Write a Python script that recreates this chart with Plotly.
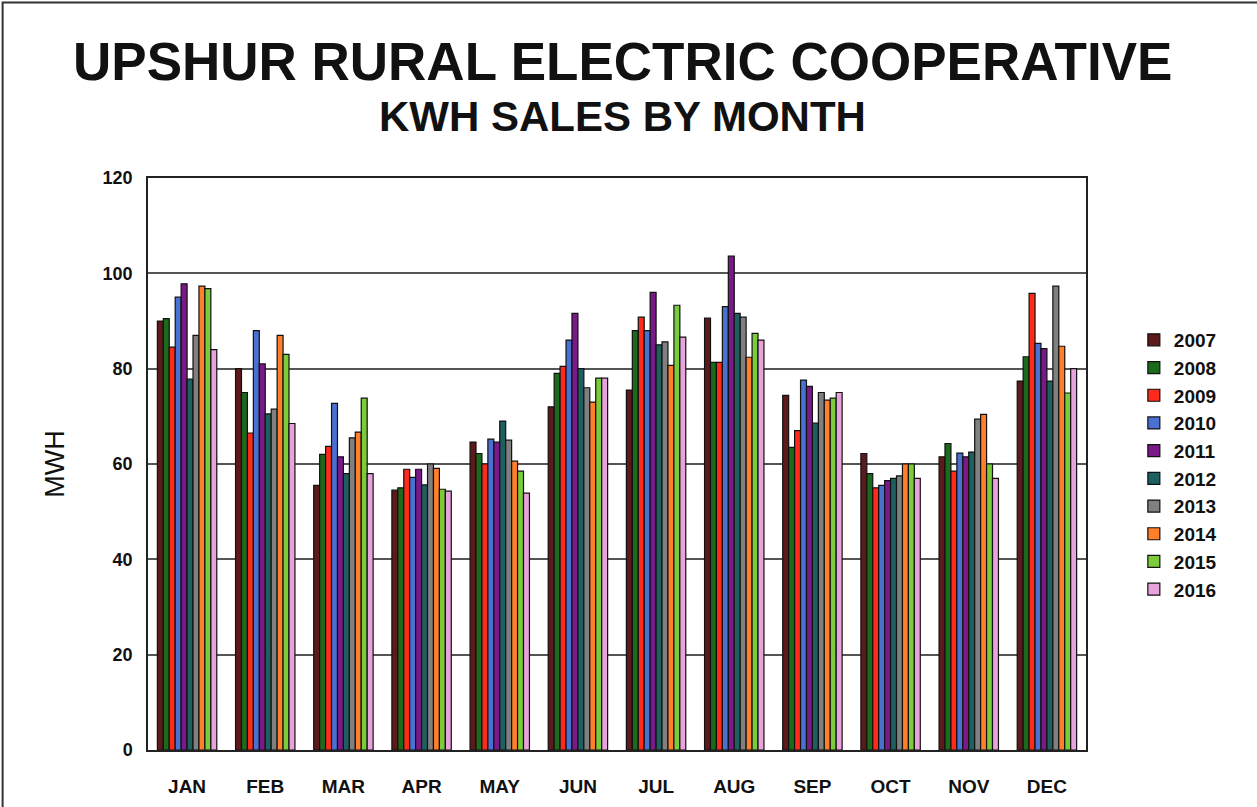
import plotly.graph_objects as go

months = ["JAN", "FEB", "MAR", "APR", "MAY", "JUN", "JUL", "AUG", "SEP", "OCT", "NOV", "DEC"]
years = ["2007", "2008", "2009", "2010", "2011", "2012", "2013", "2014", "2015", "2016"]

mwh_2007 = [90.0, 80.0, 55.5, 54.5, 64.6, 72.0, 75.5, 90.6, 74.4, 62.2, 61.5, 77.4]
mwh_2008 = [90.5, 75.0, 62.0, 55.0, 62.2, 79.0, 88.0, 81.3, 63.5, 58.0, 64.3, 82.5]
mwh_2009 = [84.5, 66.5, 63.7, 58.9, 60.0, 80.5, 90.8, 81.3, 67.0, 55.0, 58.5, 95.8]
mwh_2010 = [95.0, 88.0, 72.7, 57.2, 65.2, 86.0, 88.0, 93.0, 77.6, 55.5, 62.3, 85.3]
mwh_2011 = [97.8, 81.0, 61.5, 58.9, 64.6, 91.6, 96.0, 103.6, 76.3, 56.5, 61.5, 84.2]
mwh_2012 = [77.8, 70.5, 58.0, 55.6, 69.0, 80.0, 85.0, 91.6, 68.6, 57.0, 62.5, 77.4]
mwh_2013 = [87.0, 71.5, 65.5, 60.0, 65.0, 76.0, 85.6, 90.8, 75.0, 57.5, 69.4, 97.3]
mwh_2014 = [97.3, 87.0, 66.7, 59.1, 60.6, 73.0, 80.7, 82.4, 73.4, 60.0, 70.4, 84.7]
mwh_2015 = [96.8, 83.0, 73.8, 54.7, 58.5, 78.0, 93.3, 87.4, 73.8, 60.0, 60.0, 74.9]
mwh_2016 = [84.0, 68.5, 58.0, 54.3, 53.9, 78.0, 86.6, 86.0, 75.0, 57.0, 57.0, 80.0]

series = [mwh_2007, mwh_2008, mwh_2009, mwh_2010, mwh_2011,
          mwh_2012, mwh_2013, mwh_2014, mwh_2015, mwh_2016]
colors = ["#5c1a1a", "#1c6a1c", "#ff2a1a", "#4a70d2", "#7a1a88",
          "#1e6060", "#808080", "#ff7f2a", "#7acc3a", "#e8a2dc"]

y_ticks = [0, 20, 40, 60, 80, 100, 120]

fig = go.Figure()
for yr, vals, col in zip(years, series, colors):
    fig.add_trace(go.Bar(
        name=yr, x=months, y=vals,
        marker=dict(color=col, line=dict(color="#111111", width=1.2)),
    ))

font_family = "Liberation Sans, Arial, sans-serif"

fig.update_layout(
    width=1257, height=807,
    paper_bgcolor="white", plot_bgcolor="white",
    barmode="group", bargap=0.24, bargroupgap=0,
    margin=dict(l=148, r=171, t=178, b=57),
    font=dict(family=font_family, color="#111111"),
    showlegend=True,
    legend=dict(
        x=1.051, y=0.75, xanchor="left", yanchor="top",
        font=dict(size=19, family=font_family, color="#111111", weight="bold"),
        bgcolor="rgba(0,0,0,0)", tracegroupgap=0, itemwidth=30,
    ),
    xaxis=dict(
        showline=True, linecolor="#222222", linewidth=1.5, mirror=True,
        tickfont=dict(size=19, family=font_family, weight="bold"),
        ticks="", showgrid=False, ticklabelstandoff=18, automargin=False,
    ),
    yaxis=dict(
        range=[0, 120], tickvals=y_ticks, ticktext=[str(v) for v in y_ticks],
        showline=True, linecolor="#222222", linewidth=1.5, mirror=True,
        showgrid=True, gridcolor="#555555", gridwidth=1.5,
        tickfont=dict(size=18, family=font_family, weight="bold"),
        ticks="", ticklabelstandoff=10, automargin=False,
        title=dict(text="MWH", font=dict(size=27, family=font_family), standoff=30),
        zeroline=False,
    ),
    annotations=[
        dict(text="<b>UPSHUR RURAL ELECTRIC COOPERATIVE</b>", xref="paper", yref="paper",
             x=0.506, y=1.203, xanchor="center", yanchor="middle", showarrow=False,
             font=dict(size=53, family=font_family, color="#111111")),
        dict(text="<b>KWH SALES BY MONTH</b>", xref="paper", yref="paper",
             x=0.506, y=1.107, xanchor="center", yanchor="middle", showarrow=False,
             font=dict(size=42, family=font_family, color="#111111")),
    ],
    shapes=[
        dict(type="rect", xref="paper", yref="paper",
             x0=-0.155, x1=1.3, y0=-0.2, y1=1.307,
             line=dict(color="#333333", width=2), fillcolor="rgba(0,0,0,0)", layer="below"),
    ],
)

fig.write_html("out.html", config={"displayModeBar": False},
               post_script="document.body.style.margin='0px';")
